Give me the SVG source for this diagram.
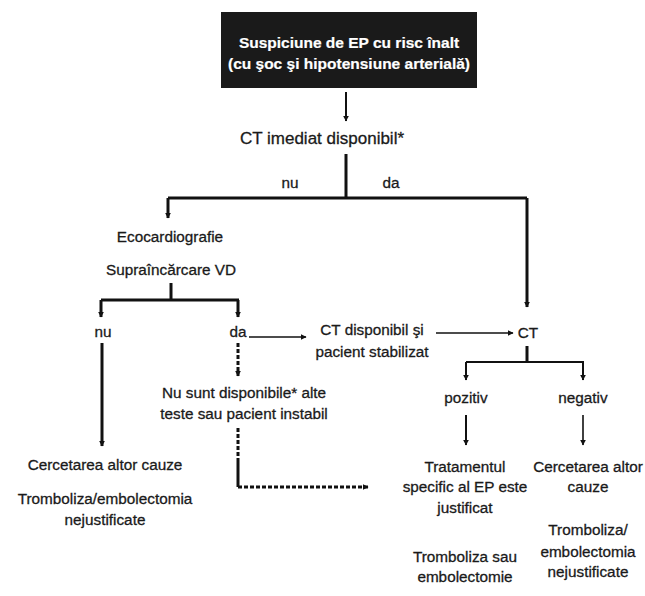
<svg xmlns="http://www.w3.org/2000/svg" width="645" height="596" viewBox="0 0 645 596">
<style>
text{font-family:"Liberation Sans",Arial,sans-serif;font-size:15.3px;fill:#1a1a1a;stroke:#1a1a1a;stroke-width:0.3;text-anchor:middle}
.w{fill:#fff;stroke:#fff;stroke-width:0.2;font-weight:bold;font-size:15.5px}
.big{font-size:17px}
.k{stroke:#111;fill:none}
.t3{stroke-width:3}
.t2{stroke-width:2}
.t15{stroke-width:1.6}
.d{stroke-dasharray:4 2}
</style>
<defs>
<marker id="ah" viewBox="0 0 10 10" refX="9" refY="5" markerWidth="6" markerHeight="6" markerUnits="userSpaceOnUse" orient="auto">
<path d="M0,0 L10,5 L0,10 z" fill="#111"/>
</marker>
</defs>
<rect width="645" height="596" fill="#fff"/>
<g id="connectors">
<path class="k t2" d="M346,92 V121" marker-end="url(#ah)"/>
<path class="k t3" d="M346,154 V198"/>
<path class="k t3" d="M168,198 H527"/>
<path class="k t3" d="M168,198 V218" marker-end="url(#ah)"/>
<path class="k t3" d="M527,198 V307" marker-end="url(#ah)"/>
<path class="k t3" d="M171,283 V300"/>
<path class="k t3" d="M101,300 H239"/>
<path class="k t3" d="M101,300 V317" marker-end="url(#ah)"/>
<path class="k t3" d="M238,300 V317" marker-end="url(#ah)"/>
<path class="k t3" d="M102,343 V446" marker-end="url(#ah)"/>
<path class="k t15" d="M249,337 H306" marker-end="url(#ah)"/>
<path class="k t3 d" d="M238,343 V376" marker-end="url(#ah)"/>
<path class="k t3 d" d="M238,428 V458"/>
<path class="k t3" d="M238,458 V487"/>
<path class="k t3 d" d="M238,487 H368" marker-end="url(#ah)"/>
<path class="k t15" d="M436,333 H513" marker-end="url(#ah)"/>
<path class="k t3" d="M527,346 V362"/>
<path class="k t2" d="M466,362 H584"/>
<path class="k t2" d="M466,362 V380" marker-end="url(#ah)"/>
<path class="k t2" d="M583,362 V380" marker-end="url(#ah)"/>
<path class="k t2" d="M466,415 V445" marker-end="url(#ah)"/>
<path class="k t15" d="M583,415 V445" marker-end="url(#ah)"/>
</g>
<g id="start">
<rect x="221" y="12" width="256" height="76" fill="#1a1a1a"/>
<text class="w" x="349" y="48">Suspiciune de EP cu risc înalt</text>
<text class="w" x="349" y="69">(cu şoc şi hipotensiune arterială)</text>
</g>
<g id="ct-imediat"><text class="big" x="322" y="144">CT imediat disponibil*</text></g>
<g id="lbl-nu1"><text x="290" y="188">nu</text></g>
<g id="lbl-da1"><text x="391" y="188">da</text></g>
<g id="eco">
<text x="170" y="242">Ecocardiografie</text>
<text x="171" y="275">Supraîncărcare VD</text>
</g>
<g id="lbl-nu2"><text x="103" y="337">nu</text></g>
<g id="lbl-da2"><text x="238" y="337">da</text></g>
<g id="ct-disp">
<text x="372" y="335">CT disponibil şi</text>
<text x="372" y="357">pacient stabilizat</text>
</g>
<g id="ct"><text x="528" y="338">CT</text></g>
<g id="nu-sunt">
<text x="244" y="398">Nu sunt disponibile* alte</text>
<text x="244" y="419">teste sau pacient instabil</text>
</g>
<g id="left-result">
<text x="105" y="470">Cercetarea altor cauze</text>
<text x="105" y="504">Tromboliza/embolectomia</text>
<text x="105" y="525">nejustificate</text>
</g>
<g id="lbl-pozitiv"><text x="466" y="403">pozitiv</text></g>
<g id="lbl-negativ"><text x="583" y="403">negativ</text></g>
<g id="tratament">
<text x="465" y="472">Tratamentul</text>
<text x="465" y="492">specific al EP este</text>
<text x="465" y="513">justificat</text>
<text x="465" y="562">Tromboliza sau</text>
<text x="465" y="582">embolectomie</text>
</g>
<g id="right-result">
<text x="588" y="472">Cercetarea altor</text>
<text x="588" y="492">cauze</text>
<text x="588" y="535">Tromboliza/</text>
<text x="588" y="557">embolectomia</text>
<text x="588" y="577">nejustificate</text>
</g>
</svg>
